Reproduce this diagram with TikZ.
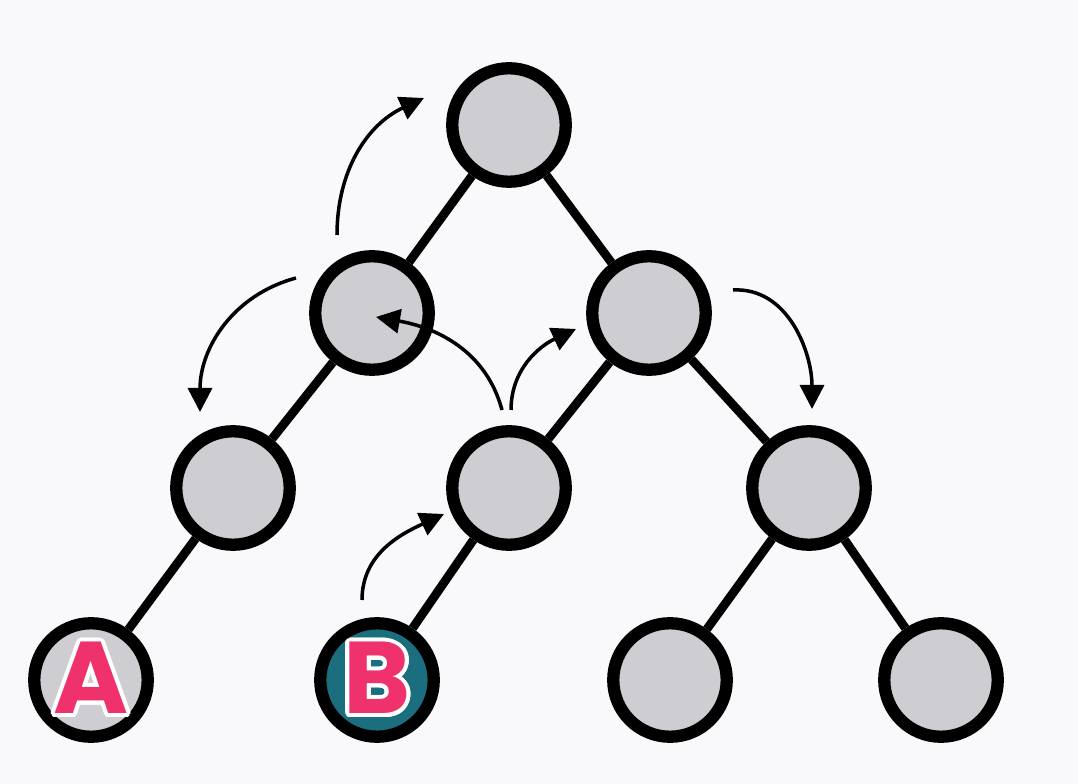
\documentclass[tikz,border=0pt]{standalone}
\usepackage{fontspec}
\setsansfont{Poppins}
\usepackage{contour}
\usetikzlibrary{arrows.meta}
\definecolor{bgwhite}{HTML}{F9F9FB}
\definecolor{nodegray}{HTML}{CDCDD2}
\definecolor{leafteal}{HTML}{1B6E7D}
\definecolor{letterpink}{HTML}{F0326C}
\contourlength{2.2pt}
\contournumber{24}
\newcommand{\leaflabel}[1]{\contour{white}{\textcolor{letterpink}{#1}}}

\begin{document}
\begin{tikzpicture}[
    x=0.02cm, y=0.02cm,
    vertex/.style={
        circle,
        draw=black,
        line width=7pt,
        fill=nodegray,
        minimum size=2.27cm,
        inner sep=0pt,
        font=\sffamily\bfseries\fontsize{58}{58}\selectfont
    },
    edge/.style={line width=5pt},
    move/.style={-{Triangle[length=0.48cm, width=0.48cm]}, line width=2pt}
]
\fill[bgwhite] (0,0) rectangle (1078,784);
\useasboundingbox (0,0) rectangle (1078,784);

\node[vertex] (root) at (509,659) {};
\node[vertex] (l1) at (372,471) {};
\node[vertex] (r1) at (649,471) {};
\node[vertex] (l2) at (233,296) {};
\node[vertex] (m2) at (509,296) {};
\node[vertex] (r2) at (809,296) {};
\node[vertex] (a) at (91,104) {\leaflabel{A}};
\node[vertex, fill=leafteal] (b) at (377,104) {\leaflabel{B}};
\node[vertex] (c) at (670,104) {};
\node[vertex] (d) at (941,104) {};

\draw[edge] (root) -- (l1);
\draw[edge] (root) -- (r1);
\draw[edge] (l1) -- (l2);
\draw[edge] (r1) -- (m2);
\draw[edge] (r1) -- (r2);
\draw[edge] (l2) -- (a);
\draw[edge] (m2) -- (b);
\draw[edge] (r2) -- (c);
\draw[edge] (r2) -- (d);

% arrow ends
\coordinate (up1s) at (337,549);
\coordinate (up1e) at (424,686);
\coordinate (dn1s) at (296,506);
\coordinate (dn1e) at (200,372);
\coordinate (bk1s) at (502,374);
\coordinate (bk1e) at (376,467);
\coordinate (up2s) at (511,374);
\coordinate (up2e) at (576,455);
\coordinate (dn2s) at (733,494);
\coordinate (dn2e) at (812,375);
\coordinate (up3s) at (362,184);
\coordinate (up3e) at (444,270);

\draw[move] (up1s) to[out=90, in=205] (up1e);
\draw[move] (dn1s) to[out=195, in=90] (dn1e);
\draw[move] (bk1s) to[out=105, in=-10] (bk1e);
\draw[move] (up2s) to[out=90, in=205] (up2e);
\draw[move] (dn2s) to[out=3, in=90] (dn2e);
\draw[move] (up3s) to[out=90, in=205] (up3e);
\end{tikzpicture}
\end{document}
